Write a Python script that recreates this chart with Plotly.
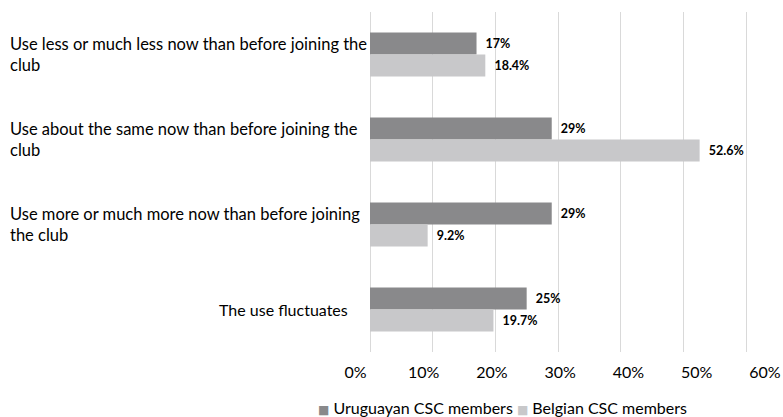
import plotly.graph_objects as go

categories = [
    "Use less or much less now than before joining the club",
    "Use about the same now than before joining the club",
    "Use more or much more now than before joining the club",
    "The use fluctuates",
]
# wrapped versions of the category names, as drawn beside the bars
category_lines = [
    "Use less or much less now than before joining the<br>club",
    "Use about the same now than before joining the<br>club",
    "Use more or much more now than before joining<br>the club",
    "The use fluctuates",
]
uruguay = [17, 29, 29, 25]
belgium = [18.4, 52.6, 9.2, 19.7]
series_names = ["Uruguayan CSC members", "Belgian CSC members"]
tick_values = [0, 10, 20, 30, 40, 50, 60]

W, H = 783, 417
FONT = "Lato"
DARK = "#89898b"
LIGHT = "#c8c8ca"
GRID = "#d9d9d9"
TXT = "#000000"

# pixel geometry of the plotting area
plot_top, plot_bottom = 12, 352.5
zero_px, sixty_px = 370, 746          # where 0% and 60% fall
label0_px, label60_px = 355.5, 765    # where the 0% / 60% tick labels are centred

px_per = (sixty_px - zero_px) / 60
x_range = [-zero_px / px_per, (W - zero_px) / px_per]
lab_per = (label60_px - label0_px) / 60
x2_range = [-label0_px / lab_per, (W - label0_px) / lab_per]

pad = "\u00a0\u00a0"


def labels(vals):
    return [f"{pad}{v:g}%" for v in vals]


fig = go.Figure()
for name, vals, color in [(series_names[0], uruguay, DARK), (series_names[1], belgium, LIGHT)]:
    fig.add_trace(go.Bar(
        y=categories, x=vals, orientation="h", name=name,
        marker=dict(color=color, line=dict(width=0)),
        text=labels(vals), textposition="outside", cliponaxis=False,
        textfont=dict(family=FONT, size=12.5, color=TXT, weight="bold"),
        hoverinfo="skip", showlegend=False,
    ))

# carrier for the percentage scale printed under the bars
fig.add_trace(go.Scatter(
    x=tick_values, y=[categories[-1]] * len(tick_values), xaxis="x2",
    mode="markers", marker=dict(opacity=0), hoverinfo="skip", showlegend=False,
))

# category labels: wrapped ones sit left-aligned, single-line one sits by the axis
for cat, txt in zip(categories, category_lines):
    multi = "<br>" in txt
    fig.add_annotation(
        xref="paper", yref="y", y=cat,
        x=(8 if multi else 350) / W,
        xanchor="left" if multi else "right",
        align="left", yanchor="middle",
        text=txt, showarrow=False,
        font=dict(family=FONT, size=16.5 if multi else 16, color=TXT),
    )

# legend row: coloured squares followed by series names
swatch = "<span style='font-family:DejaVu Sans;font-size:12px;color:{c}'>\u25a0</span>"
legend_text = (swatch.format(c=DARK) + " " + series_names[0] + " "
               + swatch.format(c=LIGHT) + " " + series_names[1])
fig.add_annotation(
    xref="paper", yref="paper", x=316 / W, xanchor="left",
    y=-(408 - plot_bottom) / (plot_bottom - plot_top), yanchor="middle",
    text=legend_text, showarrow=False,
    font=dict(family=FONT, size=16, color=TXT),
)

fig.update_layout(
    width=W, height=H,
    margin=dict(l=0, r=0, t=plot_top, b=H - plot_bottom),
    paper_bgcolor="white", plot_bgcolor="white",
    barmode="group", bargap=0.482, bargroupgap=0,
    font=dict(family=FONT, size=16, color=TXT),
    xaxis=dict(
        range=x_range, tickvals=tick_values, showticklabels=False,
        showgrid=True, gridcolor=GRID, gridwidth=1,
        zeroline=True, zerolinecolor=GRID, zerolinewidth=1,
        showline=False, fixedrange=True,
    ),
    xaxis2=dict(
        overlaying="x", anchor="y", side="bottom",
        range=x2_range, tickvals=tick_values,
        ticktext=[f"{v}%" for v in tick_values],
        ticks="outside", ticklen=6, tickcolor="rgba(0,0,0,0)",
        showgrid=False, zeroline=False, showline=False,
        tickfont=dict(family=FONT, size=16, color=TXT),
    ),
    yaxis=dict(
        autorange="reversed", showticklabels=False, showgrid=False,
        zeroline=False, showline=False, ticks="",
    ),
    showlegend=False,
)

fig.write_html("out.html")
